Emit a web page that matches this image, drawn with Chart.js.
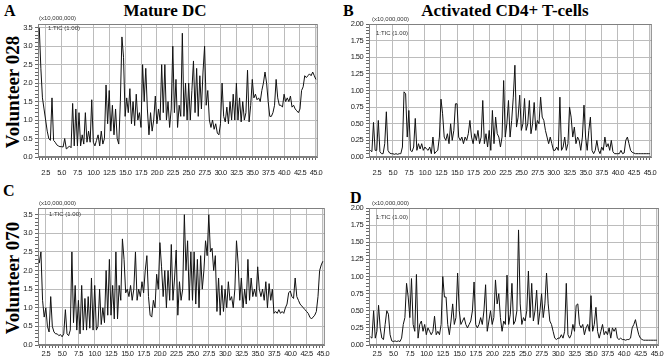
<!DOCTYPE html>
<html>
<head>
<meta charset="utf-8">
<script src="https://cdn.jsdelivr.net/npm/chart.js@4.4.0/dist/chart.umd.min.js"></script>
<style>
body{margin:0;width:664px;height:358px;background:#fff;position:relative;overflow:hidden;font-family:"Liberation Sans",Arial,sans-serif}
canvas{position:absolute}
.t{position:absolute;font-family:"Liberation Serif","Times New Roman",serif;font-weight:bold;color:#000;white-space:nowrap;line-height:1}
.v{position:absolute;font-family:"Liberation Serif","Times New Roman",serif;font-weight:bold;font-size:19px;color:#000;white-space:nowrap;line-height:1;transform:translate(-50%,-50%) rotate(-90deg)}
.s{position:absolute;font-size:6px;color:#333;white-space:nowrap;line-height:1}
</style>
</head>
<body>
<div class="t" style="left:4px;top:3px;font-size:16px">A</div>
<div class="t" style="left:165px;top:2px;font-size:17px;transform:translateX(-50%)">Mature DC</div>
<div class="t" style="left:343px;top:3px;font-size:16px">B</div>
<div class="t" style="left:505px;top:2px;font-size:17px;transform:translateX(-50%)">Activated CD4+ T-cells</div>
<div class="t" style="left:3px;top:183px;font-size:16px">C</div>
<div class="t" style="left:350px;top:190px;font-size:16px">D</div>
<div class="v" style="left:12px;top:92px">Volunteer 028</div>
<div class="v" style="left:12px;top:278px">Volunteer 070</div>

<canvas id="chartA" width="322" height="166" style="left:8px;top:14px"></canvas>
<canvas id="chartB" width="326" height="166" style="left:338px;top:14px"></canvas>
<canvas id="chartC" width="322" height="160" style="left:8px;top:198px"></canvas>
<canvas id="chartD" width="326" height="160" style="left:338px;top:198px"></canvas>

<div class="s" style="left:39px;top:15px">(x10,000,000)</div>
<div class="s" style="left:48px;top:25px">1:TIC (1.00)</div>
<div class="s" style="left:372px;top:16px">(x10,000,000)</div>
<div class="s" style="left:376px;top:30px">1:TIC (1.00)</div>
<div class="s" style="left:39px;top:200px">(x10,000,000)</div>
<div class="s" style="left:49px;top:211px">1:TIC (1.00)</div>
<div class="s" style="left:372px;top:200px">(x10,000,000)</div>
<div class="s" style="left:376px;top:214px">1:TIC (1.00)</div>

<script>
// 保持時間 (min)
var times = [
  1.5, 1.75, 2.0, 2.25,
  2.5, 2.75, 3.0, 3.25, 3.5, 3.75, 4.0, 4.25, 4.5, 4.75,
  5.0, 5.25, 5.5, 5.75, 6.0, 6.25, 6.5, 6.75, 7.0, 7.25,
  7.5, 7.75, 8.0, 8.25, 8.5, 8.75, 9.0, 9.25, 9.5, 9.75,
  10.0, 10.25, 10.5, 10.75, 11.0, 11.25, 11.5, 11.75, 12.0, 12.25,
  12.5, 12.75, 13.0, 13.25, 13.5, 13.75, 14.0, 14.25, 14.5, 14.75,
  15.0, 15.25, 15.5, 15.75, 16.0, 16.25, 16.5, 16.75, 17.0, 17.25,
  17.5, 17.75, 18.0, 18.25, 18.5, 18.75, 19.0, 19.25, 19.5, 19.75,
  20.0, 20.25, 20.5, 20.75, 21.0, 21.25, 21.5, 21.75, 22.0, 22.25,
  22.5, 22.75, 23.0, 23.25, 23.5, 23.75, 24.0, 24.25, 24.5, 24.75,
  25.0, 25.25, 25.5, 25.75, 26.0, 26.25, 26.5, 26.75, 27.0, 27.25,
  27.5, 27.75, 28.0, 28.25, 28.5, 28.75, 29.0, 29.25, 29.5, 29.75,
  30.0, 30.25, 30.5, 30.75, 31.0, 31.25, 31.5, 31.75, 32.0, 32.25,
  32.5, 32.75, 33.0, 33.25, 33.5, 33.75, 34.0, 34.25, 34.5, 34.75,
  35.0, 35.25, 35.5, 35.75, 36.0, 36.25, 36.5, 36.75, 37.0, 37.25,
  37.5, 37.75, 38.0, 38.25, 38.5, 38.75, 39.0, 39.25, 39.5, 39.75,
  40.0, 40.25, 40.5, 40.75, 41.0, 41.25, 41.5, 41.75, 42.0, 42.25,
  42.5, 42.75, 43.0, 43.25, 43.5, 43.75, 44.0, 44.25, 44.5, 44.75,
  45.0
];

// A: Mature DC, Volunteer 028 (x10,000,000)
var ticA = [
  3.5, 2.4, 1.6, 1.3,
  1.0, 0.7, 0.5, 0.45, 1.6, 0.45, 0.4, 0.33, 0.3, 0.28,
  0.28, 0.27, 0.5, 0.22, 0.25, 0.3, 0.25, 1.45, 0.3, 1.3,
  0.3, 1.2, 0.3, 0.6, 0.35, 1.2, 0.4, 0.7, 0.4, 1.55,
  0.4, 0.3, 0.45, 0.6, 0.3, 0.7, 0.35, 0.5, 1.95, 0.9,
  1.8, 0.7, 1.4, 0.6, 1.3, 0.5, 0.35, 1.5, 3.25, 2.7,
  1.1, 1.6, 1.2, 1.85, 0.9, 1.5, 0.85, 1.7, 1.0, 1.2,
  0.8, 2.5, 1.5, 2.4, 1.3, 0.6, 1.2, 0.7, 1.0, 1.65,
  0.9, 1.3, 1.0, 2.5, 1.2, 2.5, 1.0, 1.5, 0.8, 1.3,
  3.0, 1.2, 2.1, 0.8, 1.4, 1.1, 3.35, 1.1, 2.0, 1.0,
  2.0, 1.0, 1.8, 2.6, 1.2, 2.4, 1.1, 2.2, 1.3, 2.3,
  3.0, 1.4, 1.8, 1.0, 0.8, 1.0, 0.75, 0.9, 0.65, 0.6,
  0.9, 2.0, 1.1, 0.95, 1.35, 0.9, 1.5, 1.0, 1.7, 1.0,
  2.0, 1.0, 1.6, 0.95, 1.5, 1.0, 1.2, 2.35, 0.95, 1.4,
  2.1, 1.6, 1.7, 1.55, 1.6, 1.5, 1.8, 2.0, 2.3, 2.0,
  1.5, 1.1, 1.1, 1.2, 1.4, 2.1, 1.6, 1.4, 1.4, 1.35,
  1.7, 1.5, 1.6, 1.5, 1.65, 1.35, 1.4, 1.3, 1.25, 1.2,
  1.3, 1.8, 1.9, 2.2, 2.15, 2.2, 2.25, 2.2, 2.3, 2.2,
  2.1
];

// B: Activated CD4+ T-cells, Volunteer 028
var ticB = [
  0.1, 0.08, 0.52, 0.1,
  0.1, 0.55, 0.08, 0.05, 0.05, 0.2, 0.68, 0.1, 0.06, 0.05,
  0.05, 0.04, 0.05, 0.04, 0.05, 0.05, 0.15, 0.98, 0.95, 0.3,
  0.7, 0.1, 0.08, 0.15, 0.58, 0.1, 0.2, 0.12, 0.2, 0.1,
  0.15, 0.12, 0.1, 0.15, 0.05, 0.3, 0.05, 0.08, 0.1, 0.3,
  0.87, 0.65, 0.3, 0.25, 0.35, 0.2, 0.5, 0.25, 0.4, 0.8,
  0.8, 0.3, 0.25, 0.3, 0.2, 0.3, 0.25, 0.35, 0.55, 0.3,
  0.2, 0.35, 0.25, 0.4, 0.2, 0.3, 0.85, 0.2, 0.35, 0.15,
  0.4, 0.1, 0.7, 0.2, 0.6, 0.35, 0.3, 0.15, 0.3, 1.15,
  0.3, 0.5, 0.85, 0.3, 0.55, 0.9, 1.38, 0.45, 0.6, 0.93,
  0.4, 0.5, 0.88, 0.4, 0.5, 0.85, 0.35, 0.5, 0.82, 0.4,
  0.55, 0.5, 0.9, 0.6, 0.55, 0.4, 0.3, 0.2, 0.3, 0.2,
  0.1, 0.1, 0.15, 0.1, 0.9, 0.1, 0.15, 0.3, 0.1, 0.2,
  0.75, 0.6, 0.3, 0.45, 0.2, 0.3, 0.25, 0.1, 0.3, 0.78,
  0.3, 0.1, 0.4, 0.6, 0.1, 0.05, 0.1, 0.25, 0.1, 0.05,
  0.15, 0.1, 0.3, 0.15, 0.2, 0.1, 0.25, 0.08, 0.05, 0.05,
  0.05, 0.05, 0.1, 0.05, 0.06, 0.25, 0.3, 0.2, 0.1, 0.07,
  0.06, 0.05, 0.05, 0.05, 0.05, 0.05, 0.05, 0.05, 0.05, 0.05,
  0.05
];

// C: Mature DC, Volunteer 070
var ticC = [
  2.2, 2.5, 1.2, 0.75,
  1.0, 0.5, 0.35, 1.3, 0.5, 0.35, 0.3, 0.3, 0.25, 0.28,
  0.22, 0.3, 0.95, 0.3, 0.25, 0.4, 2.5, 0.6, 1.6, 0.4,
  1.2, 0.3, 1.6, 0.4, 1.25, 0.4, 1.3, 0.45, 1.8, 0.4,
  1.6, 0.4, 0.5, 1.5, 0.55, 1.0, 0.6, 2.0, 0.8, 2.3,
  0.8, 1.6, 0.7, 2.5, 0.7, 1.6, 1.2, 2.85, 2.3, 1.4,
  1.5, 1.3, 1.6, 1.2, 1.5, 2.5, 1.2, 1.5, 1.3, 1.7,
  1.4, 2.0, 2.4, 1.3, 0.8, 0.75, 1.2, 1.0, 1.9, 1.5,
  2.75, 2.1, 1.3, 2.0, 1.0, 2.0, 1.2, 2.7, 1.2, 1.8,
  2.55, 0.8, 1.7, 1.2, 1.5, 3.5, 2.0, 2.8, 1.2, 2.5,
  1.2, 2.5, 1.1, 2.3, 1.0, 2.4, 1.5, 2.0, 2.8, 2.4,
  3.5, 2.5, 2.6, 2.0, 2.4, 0.9, 1.8, 0.8, 1.6, 0.9,
  1.5, 1.0, 1.7, 1.2, 1.3, 1.0, 1.5, 2.8, 2.2, 1.2,
  1.8, 1.0, 1.5, 1.1, 2.3, 1.2, 1.8, 1.3, 1.5, 1.3,
  2.1, 1.5, 1.3, 1.5, 1.2, 1.7, 1.0, 1.65, 1.2, 1.5,
  0.85, 0.9, 0.85, 0.95, 0.85, 0.9, 0.85, 1.0, 1.1, 1.4,
  1.45, 1.3, 1.25, 1.8, 1.3, 1.2, 1.1, 1.05, 1.0, 0.95,
  0.9, 0.85, 0.75, 0.7, 0.75, 0.8, 0.9, 1.3, 2.0, 2.15,
  2.25
];

// D: Activated CD4+ T-cells, Volunteer 070
var ticD = [
  0.12, 0.1, 0.5, 0.1,
  0.2, 0.58, 0.25, 0.1, 0.08, 0.3, 0.5, 0.45, 0.15, 0.06,
  0.05, 0.06, 0.05, 0.06, 0.05, 0.1, 0.3, 0.4, 0.9, 0.7,
  0.4, 0.97, 0.3, 0.2, 1.03, 0.1, 0.3, 0.35, 0.2, 0.3,
  0.15, 0.25, 0.2, 0.15, 0.2, 0.42, 0.15, 0.2, 0.15, 0.3,
  1.0, 0.7, 0.7, 0.3, 0.15, 0.35, 0.6, 0.3, 0.4, 1.05,
  0.5, 0.3, 0.35, 0.4, 0.3, 0.25, 0.3, 0.35, 0.5, 0.92,
  0.3, 0.25, 0.3, 0.4, 0.3, 0.5, 0.88, 0.2, 0.35, 0.5,
  0.3, 0.4, 0.95, 0.6, 0.75, 0.4, 0.2, 0.35, 0.3, 1.02,
  0.3, 0.45, 0.9, 0.3, 0.35, 0.5, 1.68, 0.6, 0.3, 0.4,
  0.35, 0.5, 1.08, 0.4, 0.9, 0.35, 0.5, 0.8, 0.3, 0.5,
  0.75, 0.4, 0.6, 1.05, 0.6, 0.35, 0.3, 0.2, 0.1, 0.08,
  0.1, 0.1, 0.15, 0.1, 0.2, 0.9, 0.15, 0.1, 0.15, 0.3,
  0.2, 0.58, 0.6, 0.3, 0.25, 0.3, 0.15, 0.25, 0.3, 0.2,
  0.72, 0.2, 0.3, 0.55, 0.2, 0.1, 0.2, 0.3, 0.15, 0.2,
  0.15, 0.25, 0.1, 0.25, 0.2, 0.25, 0.1, 0.08, 0.1, 0.08,
  0.08, 0.07, 0.08, 0.08, 0.1, 0.25, 0.3, 0.37, 0.25, 0.15,
  0.1, 0.08, 0.07, 0.07, 0.07, 0.07, 0.07, 0.07, 0.07, 0.07,
  0.07
];

// 目盛りラベル
var xTickLabels = ["2.5", "5.0", "7.5", "10.0", "12.5", "15.0", "17.5", "20.0", "22.5",
  "25.0", "27.5", "30.0", "32.5", "35.0", "37.5", "40.0", "42.5", "45.0"];
var yTickLabelsDC = ["0.0", "0.5", "1.0", "1.5", "2.0", "2.5", "3.0", "3.5"];
var yTickLabelsT = ["0.00", "0.25", "0.50", "0.75", "1.00", "1.25", "1.50", "1.75", "2.00"];

var xMin = 1.3;
var xMax = 45.3;

// 枠線と字間
var frame = {
  id: 'frame',
  beforeUpdate: function (chart) {
    chart.ctx.letterSpacing = '-0.6px';
  },
  beforeDatasetsDraw: function (chart) {
    var a = chart.chartArea, ctx = chart.ctx;
    ctx.save();
    ctx.strokeStyle = '#808080';
    ctx.lineWidth = 1;
    ctx.strokeRect(a.left + 0.5, a.top + 0.5, a.right - a.left - 1, a.bottom - a.top - 1);
    ctx.restore();
  }
};

function findLabel(v, labels) {
  for (var i = 0; i < labels.length; i++) {
    if (Math.abs(Number(labels[i]) - v) < 1e-6) return labels[i];
  }
  return '';
}

function makePanel(id, values, o) {
  var tickFont = { family: '"Liberation Sans", Arial, sans-serif', size: 7.5 };
  var xVals = [], yVals = [];
  for (var k = 3; k <= 90; k++) xVals.push(k / 2);
  for (var j = 0; j <= o.minorCount; j++) yVals.push(Math.round(j * o.minorStep * 1000) / 1000);
  var xGrid = xVals.map(function (v) { return findLabel(v, xTickLabels) ? '#bcbcbc' : 'rgba(255,255,255,0)'; });
  var yGrid = yVals.map(function (v) { return findLabel(v, o.yLabels) ? '#bcbcbc' : 'rgba(255,255,255,0)'; });
  return new Chart(document.getElementById(id), {
    type: 'line',
    data: {
      labels: times,
      datasets: [{
        data: values,
        borderColor: '#111',
        borderWidth: 1,
        pointRadius: 0,
        tension: 0,
        fill: false
      }]
    },
    options: {
      responsive: false,
      animation: false,
      layout: { padding: { top: o.padTop, right: o.padRight, left: 0, bottom: 0 } },
      plugins: { legend: { display: false }, tooltip: { enabled: false } },
      scales: {
        x: {
          type: 'linear',
          min: xMin,
          max: xMax,
          afterBuildTicks: function (s) {
            s.ticks = xVals.map(function (v) { return { value: v }; });
          },
          afterFit: function (s) { s.height = o.xAxisH; },
          ticks: {
            autoSkip: false, maxRotation: 0, minRotation: 0, padding: o.xPad, font: tickFont, color: '#222',
            callback: function (v) { return findLabel(v, xTickLabels); }
          },
          grid: {
            display: true,
            drawOnChartArea: true,
            drawTicks: true,
            color: xGrid,
            lineWidth: 1,
            tickColor: '#666',
            tickLength: 3
          },
          border: { display: true, color: '#808080' }
        },
        y: {
          min: 0,
          max: o.yMax,
          afterBuildTicks: function (s) {
            s.ticks = yVals.map(function (v) { return { value: v }; });
          },
          afterFit: function (s) { s.width = o.yAxisW; },
          ticks: {
            autoSkip: false, padding: 3, font: tickFont, color: '#222',
            callback: function (v) { return findLabel(v, o.yLabels); }
          },
          grid: {
            display: true,
            drawOnChartArea: true,
            drawTicks: true,
            color: yGrid,
            lineWidth: 1,
            tickColor: '#666',
            tickLength: 3
          },
          border: { display: true, color: '#808080' }
        }
      }
    },
    plugins: [frame]
  });
}

var chartA = makePanel('chartA', ticA, { yMax: 3.6, minorStep: 0.1, minorCount: 35, yLabels: yTickLabelsDC,
  yAxisW: 30, padTop: 10, padRight: 4, xAxisH: 23, xPad: 8 });
var chartB = makePanel('chartB', ticB, { yMax: 2.0, minorStep: 0.05, minorCount: 40, yLabels: yTickLabelsT,
  yAxisW: 31, padTop: 10, padRight: 4, xAxisH: 23, xPad: 8 });
var chartC = makePanel('chartC', ticC, { yMax: 3.68, minorStep: 0.1, minorCount: 35, yLabels: yTickLabelsDC,
  yAxisW: 30, padTop: 10, padRight: 4, xAxisH: 13, xPad: 1 });
var chartD = makePanel('chartD', ticD, { yMax: 2.0, minorStep: 0.05, minorCount: 40, yLabels: yTickLabelsT,
  yAxisW: 31, padTop: 10, padRight: 4, xAxisH: 13, xPad: 1 });
</script>
</body>
</html>
